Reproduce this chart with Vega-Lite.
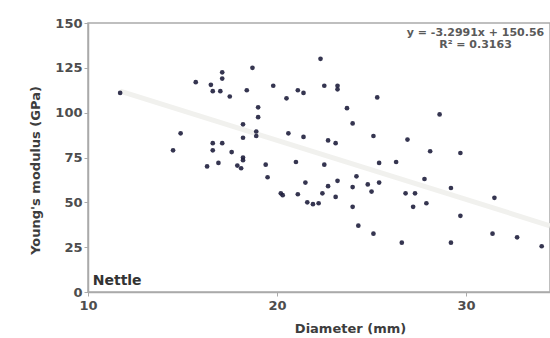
{
  "$schema": "https://vega.github.io/schema/vega-lite/v6.json",
  "autosize": {"type": "none"},
  "padding": {"left": 88, "top": 23, "right": 0, "bottom": 46},
  "width": 462,
  "height": 269,
  "background": "white",
  "config": {
    "view": {"stroke": "#aaaaaa", "strokeWidth": 1.5},
    "axis": {
      "labelFont": "DejaVu Sans",
      "labelFontWeight": "bold",
      "labelFontSize": 13,
      "labelColor": "#4d4d4d",
      "labelFlush": false,
      "titleFont": "DejaVu Sans",
      "titleFontWeight": "bold",
      "titleFontSize": 13,
      "titleColor": "#3d3d3d",
      "domainColor": "#aaaaaa",
      "domainWidth": 1.5,
      "tickColor": "#aaaaaa",
      "tickSize": 4,
      "grid": false
    }
  },
  "datasets": {
    "points": [
      {"d": 11.7, "e": 111}, {"d": 14.9, "e": 88.5}, {"d": 14.5, "e": 79}, {"d": 15.7, "e": 117},
      {"d": 16.5, "e": 115.5}, {"d": 16.6, "e": 112}, {"d": 17.0, "e": 112}, {"d": 17.1, "e": 122.5},
      {"d": 17.1, "e": 119}, {"d": 17.5, "e": 109}, {"d": 18.4, "e": 112.5}, {"d": 18.7, "e": 125},
      {"d": 19.0, "e": 103}, {"d": 19.0, "e": 97.5}, {"d": 18.2, "e": 93.5}, {"d": 18.9, "e": 89.5},
      {"d": 18.9, "e": 87}, {"d": 18.2, "e": 86}, {"d": 16.6, "e": 83}, {"d": 17.1, "e": 83},
      {"d": 16.6, "e": 79}, {"d": 17.6, "e": 78}, {"d": 18.2, "e": 75}, {"d": 18.2, "e": 73.5},
      {"d": 16.3, "e": 70}, {"d": 16.9, "e": 72}, {"d": 17.9, "e": 70.5}, {"d": 18.1, "e": 69},
      {"d": 19.4, "e": 71}, {"d": 19.5, "e": 64}, {"d": 20.2, "e": 55}, {"d": 19.8, "e": 115},
      {"d": 22.3, "e": 130}, {"d": 21.1, "e": 112.5}, {"d": 21.4, "e": 111}, {"d": 20.5, "e": 108},
      {"d": 22.5, "e": 115}, {"d": 23.2, "e": 115}, {"d": 23.2, "e": 113}, {"d": 25.3, "e": 108.5},
      {"d": 23.7, "e": 102.5}, {"d": 24.0, "e": 94}, {"d": 28.6, "e": 99}, {"d": 20.6, "e": 88.5},
      {"d": 21.4, "e": 86.5}, {"d": 22.7, "e": 84.5}, {"d": 23.1, "e": 83}, {"d": 25.1, "e": 87},
      {"d": 26.9, "e": 85}, {"d": 28.1, "e": 78.5}, {"d": 29.7, "e": 77.5}, {"d": 21.0, "e": 72.5},
      {"d": 22.5, "e": 71}, {"d": 25.4, "e": 72}, {"d": 26.3, "e": 72.5}, {"d": 24.2, "e": 64.5},
      {"d": 21.5, "e": 61}, {"d": 22.7, "e": 59}, {"d": 23.2, "e": 62}, {"d": 24.0, "e": 58.5},
      {"d": 24.8, "e": 60}, {"d": 25.0, "e": 56}, {"d": 25.4, "e": 61}, {"d": 27.8, "e": 63},
      {"d": 29.2, "e": 58}, {"d": 20.3, "e": 54}, {"d": 21.1, "e": 54.5}, {"d": 22.4, "e": 55},
      {"d": 23.1, "e": 53}, {"d": 21.6, "e": 50}, {"d": 21.9, "e": 49}, {"d": 22.2, "e": 49.5},
      {"d": 26.8, "e": 55}, {"d": 27.3, "e": 55}, {"d": 27.9, "e": 49.5}, {"d": 27.2, "e": 47.5},
      {"d": 24.0, "e": 47.5}, {"d": 24.3, "e": 37}, {"d": 25.1, "e": 32.5}, {"d": 26.6, "e": 27.5},
      {"d": 29.2, "e": 27.5}, {"d": 29.7, "e": 42.5}, {"d": 31.5, "e": 52.5}, {"d": 31.4, "e": 32.5},
      {"d": 32.7, "e": 30.5}, {"d": 34.0, "e": 25.5}
    ],
    "trend": [
      {"d": 11.7, "e": 111.96},
      {"d": 34.44, "e": 36.94}
    ],
    "eq": [
      {"d": 30.5, "e": 144.3, "t": "y = -3.2991x + 150.56"},
      {"d": 30.5, "e": 137.6, "t": "R² = 0.3163"}
    ],
    "tag": [
      {"d": 10.25, "e": 2.5, "t": "Nettle"}
    ]
  },
  "encoding": {
    "x": {
      "field": "d", "type": "quantitative",
      "scale": {"domain": [10, 34.44], "nice": false, "zero": false},
      "axis": {"title": "Diameter (mm)", "values": [10, 20, 30], "titlePadding": 10, "titleX": 262, "labelPadding": 3}
    },
    "y": {
      "field": "e", "type": "quantitative",
      "scale": {"domain": [0, 150], "nice": false},
      "axis": {"title": "Young's modulus (GPa)", "values": [0, 25, 50, 75, 100, 125, 150], "titlePadding": 12, "titleY": 147}
    }
  },
  "layer": [
    {
      "data": {"name": "trend"},
      "mark": {"type": "line", "color": "#f1f1ee", "strokeWidth": 5, "clip": true}
    },
    {
      "data": {"name": "points"},
      "mark": {"type": "point", "shape": "circle", "filled": true, "size": 22, "color": "#1f1f3d", "opacity": 0.9}
    },
    {
      "data": {"name": "eq"},
      "mark": {"type": "text", "font": "DejaVu Sans", "fontWeight": "bold", "fontSize": 11, "color": "#5a5a5a", "align": "center", "baseline": "middle"},
      "encoding": {"text": {"field": "t"}}
    },
    {
      "data": {"name": "tag"},
      "mark": {"type": "text", "font": "DejaVu Sans", "fontWeight": "bold", "fontSize": 14, "color": "#333333", "align": "left", "baseline": "bottom"},
      "encoding": {"text": {"field": "t"}}
    }
  ]
}
